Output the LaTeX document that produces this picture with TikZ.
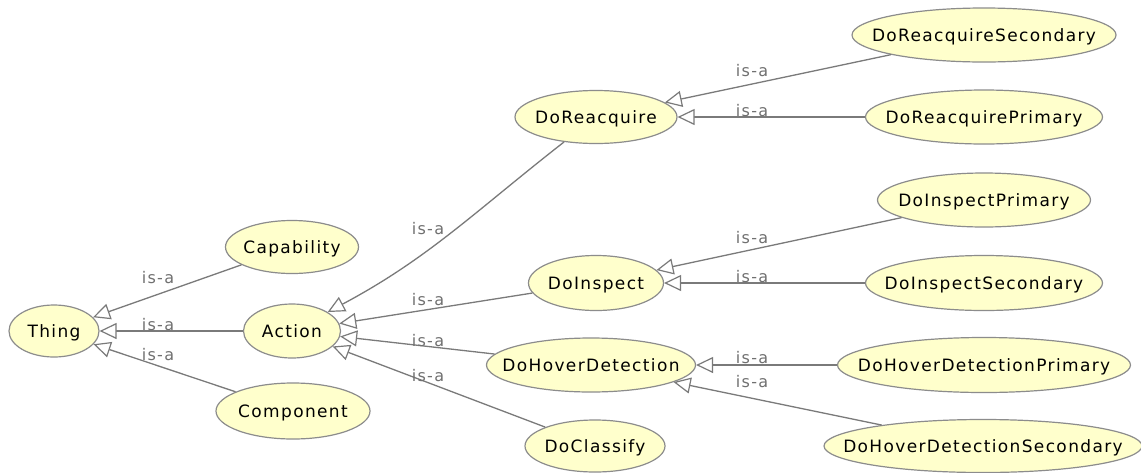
\documentclass[tikz,border=0pt]{standalone}
\usepackage{fontspec}
\usetikzlibrary{shapes.geometric,arrows.meta}
\newfontfamily\dejavuwide[LetterSpace=8]{DejaVu Sans}
\newcommand\clsfont{\dejavuwide\fontsize{17pt}{20pt}\selectfont}
\newcommand\isafont{\dejavuwide\fontsize{16pt}{19pt}\selectfont}
% zero-width label box so the ellipse size is set by the minimum sizes only
\newcommand\nm[1]{\makebox[0pt]{#1}}
\definecolor{clsfill}{HTML}{FFFFCC}
\definecolor{clsborder}{HTML}{8C8C8C}
\definecolor{edgegray}{HTML}{7A7A7A}
\definecolor{lblgray}{HTML}{707070}
\begin{document}
\begin{tikzpicture}[x=1pt,y=1pt,
  cls/.style={ellipse, draw=clsborder, fill=clsfill, line width=1.2pt,
    inner sep=0pt, font=\clsfont, text=black,
    text height=12.4pt, text depth=0pt},
  isa/.style={draw=edgegray, line width=1.3pt,
    -{Triangle[length=17pt,width=16pt,fill=white,line width=1.2pt]}},
  lbl/.style={font=\isafont, text=lblgray, inner sep=0pt,
    text height=12pt, text depth=0pt}]
\fill[white] (0,0) rectangle (1141,-472);
\useasboundingbox (0,0) rectangle (1141,-472);

% classes
\node[cls, minimum width=90pt,  minimum height=52pt] (thing)     at (54,-331)  {\nm{Thing}};
\node[cls, minimum width=133pt, minimum height=53pt] (cap)       at (292,-247) {\nm{Capability}};
\node[cls, minimum width=97pt,  minimum height=54pt] (action)    at (292,-331) {\nm{Action}};
\node[cls, minimum width=154pt, minimum height=56pt] (comp)      at (293,-411) {\nm{Component}};
\node[cls, minimum width=162pt, minimum height=53pt] (dorea)     at (596,-117) {\nm{DoReacquire}};
\node[cls, minimum width=135pt, minimum height=55pt] (doinsp)    at (596,-283) {\nm{DoInspect}};
\node[cls, minimum width=209pt, minimum height=54pt] (dohov)     at (591,-365) {\nm{DoHoverDetection}};
\node[cls, minimum width=140pt, minimum height=52pt] (doclass)   at (595,-446) {\nm{DoClassify}};
\node[cls, minimum width=264pt, minimum height=54pt] (doreasec)  at (984,-35)  {\nm{DoReacquireSecondary}};
\node[cls, minimum width=237pt, minimum height=54pt] (doreapri)  at (984,-117) {\nm{DoReacquirePrimary}};
\node[cls, minimum width=213pt, minimum height=54pt] (doinsppri) at (984,-200) {\nm{DoInspectPrimary}};
\node[cls, minimum width=237pt, minimum height=55pt] (doinspsec) at (984,-283) {\nm{DoInspectSecondary}};
\node[cls, minimum width=293pt, minimum height=55pt] (dohovpri)  at (984,-365) {\nm{DoHoverDetectionPrimary}};
\node[cls, minimum width=318pt, minimum height=53pt] (dohovsec)  at (983,-446) {\nm{DoHoverDetectionSecondary}};

% subclass links, child to parent
\draw[isa] (cap) -- (thing);
\draw[isa] (action) -- (thing);
\draw[isa] (comp) -- (thing);
\draw[isa] (dorea) to[out=218, in=28] (action);
\draw[isa] (doinsp) -- (action);
\draw[isa] (dohov) -- (action);
\draw[isa] (doclass) -- (action);
\draw[isa] (doreasec) -- (dorea);
\draw[isa] (doreapri) -- (dorea);
\draw[isa] (doinsppri) -- (doinsp);
\draw[isa] (doinspsec) -- (doinsp);
\draw[isa] (dohovpri) -- (dohov);
\draw[isa] (dohovsec) -- (dohov);

% link labels
\node[lbl] (l-cap)       at (158,-277) {is-a};
\node[lbl] (l-action)    at (158,-324) {is-a};
\node[lbl] (l-comp)      at (158,-354) {is-a};
\node[lbl] (l-dorea)     at (428,-228) {is-a};
\node[lbl] (l-doinsp)    at (428,-299) {is-a};
\node[lbl] (l-dohov)     at (428,-340) {is-a};
\node[lbl] (l-doclass)   at (428,-375) {is-a};
\node[lbl] (l-doreasec)  at (752,-70)  {is-a};
\node[lbl] (l-doreapri)  at (752,-110) {is-a};
\node[lbl] (l-doinsppri) at (752,-237) {is-a};
\node[lbl] (l-doinspsec) at (752,-276) {is-a};
\node[lbl] (l-dohovpri)  at (752,-357) {is-a};
\node[lbl] (l-dohovsec)  at (752,-381) {is-a};
\end{tikzpicture}
\end{document}
